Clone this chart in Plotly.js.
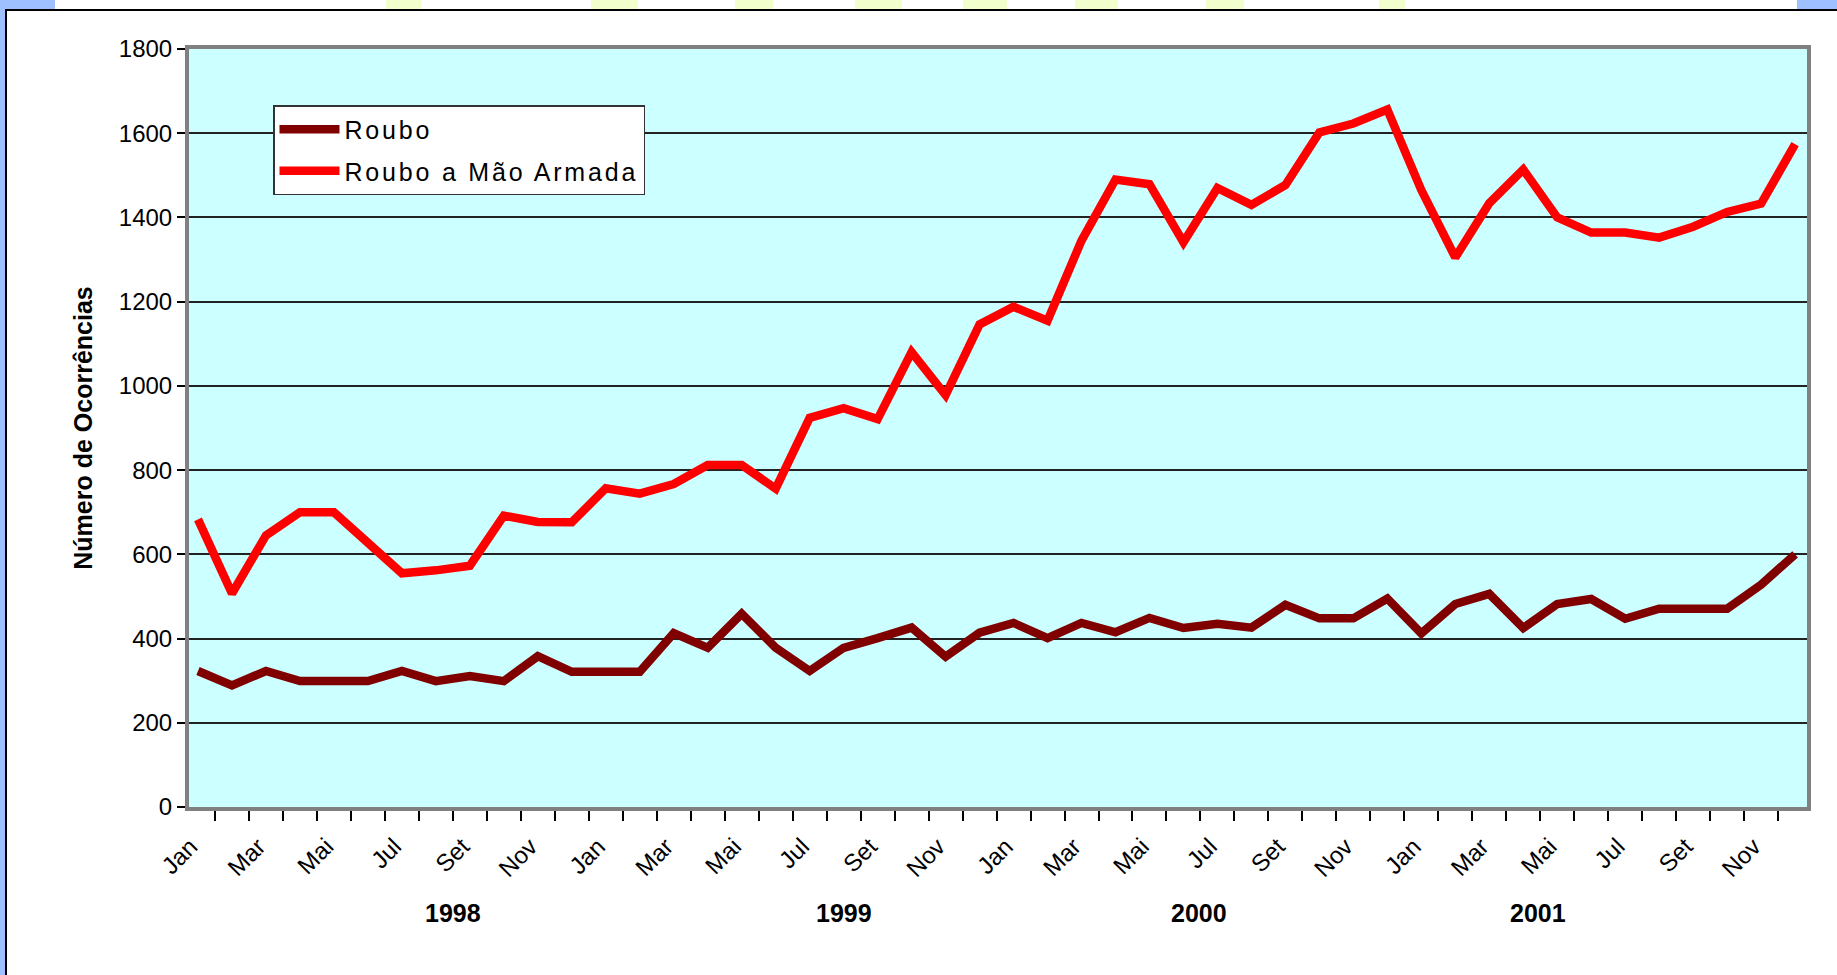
<!DOCTYPE html>
<html>
<head>
<meta charset="utf-8">
<script src="https://cdn.plot.ly/plotly-3.0.1.min.js"></script>
<style>
  html, body { margin: 0; padding: 0; background: #fff; }
  #chart { width: 1837px; height: 975px; }
  .legendtext { letter-spacing: 2.8px; }
</style>
</head>
<body>
<div id="chart"></div>
<script>
// ---- Data ----
const months = ['Jan','Fev','Mar','Abr','Mai','Jun','Jul','Ago','Set','Out','Nov','Dez'];
const years = ['1998','1999','2000','2001'];
const seriesNames = ['Roubo', 'Roubo a Mão Armada'];

const roubo = [323, 289, 323, 299, 299, 299, 323, 299, 311, 299, 358, 321,
               321, 321, 413, 378, 459, 378, 323, 378, 401, 426, 357, 414,
               437, 401, 437, 415, 449, 425, 435, 426, 480, 448, 448, 495,
               412, 482, 506, 425, 482, 494, 447, 471, 471, 471, 528, 600];

const armada = [683, 507, 645, 700, 700, 625, 555, 562, 573, 692, 677, 676,
                757, 744, 767, 812, 812, 756, 924, 947, 921, 1080, 978, 1146,
                1188, 1155, 1345, 1490, 1479, 1341, 1470, 1430, 1477, 1602, 1623, 1656,
                1465, 1305, 1434, 1514, 1400, 1364, 1364, 1352, 1378, 1413, 1433, 1574];

// ---- Category positions and tick labels ----
const idx = roubo.map((_, i) => i);
const labelIdx = idx.filter(i => i % 2 === 0);
const LABEL_SHIFT = -0.22;               // rotated labels sit slightly left of the point
const tickvals = labelIdx.map(i => i + LABEL_SHIFT);
const ticktext = labelIdx.map(i => months[i % 12]);

// ---- Layout geometry (pixels) ----
const W = 1837, H = 975;
const M = { l: 189, r: 30, t: 49, b: 168 };
const PW = W - M.l - M.r, PH = H - M.t - M.b;
const px = x => (x - M.l) / PW;
const py = y => (H - M.b - y) / PH;

// year label positions (pixel x of label centre)
const yearPos = [453, 844, 1199, 1538];

// decorative frame pieces of the original slide
function rectPx(x0, y0, x1, y1, color) {
  return { type: 'rect', xref: 'paper', yref: 'paper',
           x0: px(x0), x1: px(x1), y0: py(y1), y1: py(y0),
           fillcolor: color, line: { width: 0 }, layer: 'above' };
}
const yellowBits = [[386,421],[591,638],[735,773],[855,902],[963,1007],[1075,1118],[1206,1244],[1379,1405]];
const shapes = [
  rectPx(0, 0, 5, H, '#9FC0FF'),
  rectPx(0, 0, 55, 9, '#9FC0FF'),
  rectPx(1797, 0, W, 9, '#9FC0FF'),
  ...yellowBits.map(b => rectPx(b[0], 0, b[1], 9, '#F2FFCC')),
  rectPx(5, 9, W, 11, '#000000'),
  rectPx(5, 9, 7, H, '#000000')
];

const FONT = '"Liberation Sans", Arial, Helvetica, sans-serif';

const traces = [
  { x: idx, y: roubo, name: seriesNames[0], type: 'scatter', mode: 'lines',
    line: { color: '#800000', width: 8.5 }, legendgroup: 'a' },
  { x: idx, y: armada, name: seriesNames[1], type: 'scatter', mode: 'lines',
    line: { color: '#FF0000', width: 8.5 }, legendgroup: 'b' }
];

const layout = {
  width: W, height: H,
  margin: M,
  paper_bgcolor: '#ffffff',
  plot_bgcolor: '#CCFFFF',
  font: { family: FONT, color: '#000000' },
  showlegend: true,
  legend: {
    x: px(273), y: py(105), xanchor: 'left', yanchor: 'top',
    bgcolor: '#ffffff', bordercolor: '#333333', borderwidth: 1.5,
    font: { family: FONT, size: 25, color: '#000' },
    traceorder: 'grouped', tracegroupgap: 6, itemwidth: 60
  },
  xaxis: {
    range: [-0.265, 47.35],
    tickmode: 'array', tickvals: tickvals, ticktext: ticktext,
    tickangle: -45, ticks: '', ticklabelstandoff: 12,
    tickfont: { family: FONT, size: 24, color: '#000' },
    showgrid: false, zeroline: false,
    showline: true, linecolor: '#808080', linewidth: 4, mirror: true,
    minor: { tickmode: 'linear', tick0: 0.5, dtick: 1, ticks: 'outside',
             ticklen: 10, tickcolor: '#000', tickwidth: 1.5, showgrid: false }
  },
  yaxis: {
    range: [0, 1800], tickmode: 'linear', tick0: 0, dtick: 200,
    ticks: 'outside', ticklen: 8, tickcolor: '#000', tickwidth: 1.5,
    tickfont: { family: FONT, size: 24, color: '#000' },
    showgrid: true, gridcolor: '#222222', gridwidth: 1.5,
    zeroline: false,
    showline: true, linecolor: '#808080', linewidth: 4, mirror: true,
    title: { text: 'Número de Ocorrências', standoff: 20,
             font: { family: FONT, size: 25, weight: 'bold', color: '#000' } },
    automargin: false
  },
  annotations: years.map((yr, i) => ({
    text: yr, xref: 'paper', yref: 'paper', x: px(yearPos[i]), y: py(913),
    xanchor: 'center', yanchor: 'middle', showarrow: false,
    font: { family: FONT, size: 25, weight: 'bold', color: '#000' }
  })),
  shapes: shapes
};

Plotly.newPlot('chart', traces, layout, { displayModeBar: false, responsive: false });
</script>
</body>
</html>
